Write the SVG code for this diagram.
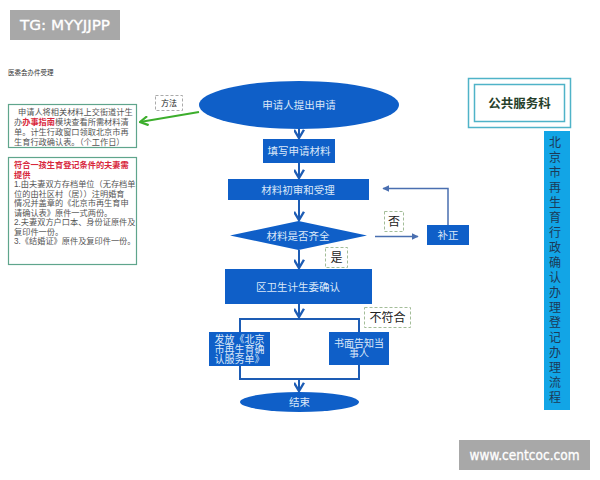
<svg xmlns="http://www.w3.org/2000/svg" width="600" height="480" viewBox="0 0 600 480">
<style>
text{font-family:"Liberation Sans","Noto Sans CJK SC",sans-serif}
.n{fill:#0f5fc8}
.w{fill:#dbe8f8;text-anchor:middle;font-size:10.5px}
.w2{fill:#dbe8f8;text-anchor:middle;font-size:10px}
.l{fill:#222;text-anchor:middle;font-size:12px}
.d{fill:#fff;stroke:#a3bd98;stroke-width:1;stroke-dasharray:3 2}
.c{fill:none;stroke:#1d5cb4;stroke-width:2}
.g{fill:#fff;stroke:#5fa58c;stroke-width:1.2}
.b{fill:#555;font-size:8.2px}
.r{fill:#d8283c;font-weight:700}
.wm{fill:#a8a8a8}
.wt{fill:#fff;stroke:#fff;stroke-width:.3;font-size:13.5px;font-family:"DejaVu Sans",sans-serif;text-anchor:middle}
.t{font-size:12px;fill:#1c3a58;text-anchor:middle}
</style>
<defs>
<marker id="o" viewBox="0 0 10 10" refX="8.5" refY="5" markerWidth="5.5" markerHeight="5.5" orient="auto" markerUnits="strokeWidth"><path d="M1 0.5L8.5 5L1 9.5" fill="none" stroke="#1d5cb4" stroke-width="2.2"/></marker>
<marker id="f" viewBox="0 0 10 10" refX="9" refY="5" markerWidth="4.5" markerHeight="4.5" orient="auto" markerUnits="strokeWidth"><path d="M0 0L10 5L0 10z" fill="#4a6fb0"/></marker>
<marker id="gr" viewBox="0 0 10 10" refX="9" refY="5" markerWidth="5" markerHeight="5" orient="auto" markerUnits="strokeWidth"><path d="M1 0.5L9 5L1 9.500" fill="none" stroke="#3cae2c" stroke-width="2.2"/></marker>
</defs>
<rect width="600" height="480" fill="#fff"/>
<g id="watermark-top"><rect class="wm" x="10" y="10" width="110" height="30"/><text class="wt" x="65" y="30" textLength="90" lengthAdjust="spacingAndGlyphs">TG: MYYJJPP</text></g>
<text x="8" y="75" font-size="6.5" fill="#333">医委会办件受理</text>
<g id="connectors">
<path d="M199 112L140 122" stroke="#3cae2c" stroke-width="2" fill="none" marker-end="url(#gr)"/>
<path class="c" d="M299 129V138" marker-end="url(#o)"/>
<path class="c" d="M299 163V178" marker-end="url(#o)"/>
<path class="c" d="M299 200V220" marker-end="url(#o)"/>
<path class="c" d="M299 250V268" marker-end="url(#o)"/>
<path class="c" d="M299 304V317" marker-end="url(#o)"/>
<path class="c" d="M240 332V319H359V332M240 366V379H359V365"/>
<path class="c" d="M299 379V391" marker-end="url(#o)"/>
<path d="M375 236.500H418" stroke="#4a6fb0" stroke-width="1.500" fill="none" marker-end="url(#f)"/>
<path d="M448 225V188.500H383" stroke="#4a6fb0" stroke-width="1.500" fill="none" marker-end="url(#f)"/>
</g>
<g id="note-method"><rect class="d" x="155.500" y="95.500" width="27" height="15" style="stroke:#aaa"/><text class="l" x="169" y="106" style="font-size:8px">方法</text></g>
<g id="box-guide"><rect class="g" x="8.500" y="104.500" width="128" height="43"/>
<text class="b" x="18" y="115">申请人将相关材料上交街道计生</text>
<text class="b" x="14" y="125">办<tspan class="r">办事指南</tspan>模块查看所需材料清</text>
<text class="b" x="14" y="135">单。计生行政窗口领取北京市再</text>
<text class="b" x="14" y="145">生育行政确认表。（个工作日）</text></g>
<g id="box-materials"><rect class="g" x="8.500" y="157.500" width="128" height="107"/>
<text class="b r" x="14" y="168">符合一孩生育登记条件的夫妻需</text>
<text class="b r" x="14" y="177.500">提供</text>
<text class="b" x="14" y="187">1.由夫妻双方存档单位（无存档单</text>
<text class="b" x="14" y="196.500">位的由社区村（居））注明婚育</text>
<text class="b" x="14" y="206">情况并盖章的《北京市再生育申</text>
<text class="b" x="14" y="215.500">请确认表》原件一式两份。</text>
<text class="b" x="14" y="225">2.夫妻双方户口本、身份证原件及</text>
<text class="b" x="14" y="234.500">复印件一份。</text>
<text class="b" x="14" y="244">3.《结婚证》原件及复印件一份。</text></g>
<g id="start"><ellipse class="n" cx="299" cy="105" rx="100" ry="24"/><text class="w" x="299" y="109">申请人提出申请</text></g>
<g id="fill"><rect class="n" x="263" y="139" width="72" height="24"/><text class="w" x="299" y="155">填写申请材料</text></g>
<g id="review"><rect class="n" x="228" y="179" width="141" height="21"/><text class="w" x="298" y="194">材料初审和受理</text></g>
<g id="check"><path class="n" d="M230 235.500L298.500 221L367 235.500L298.500 250z"/><text class="w" x="298" y="240">材料是否齐全</text></g>
<g id="confirm"><rect class="n" x="225" y="269" width="147" height="35"/><text class="w" x="298" y="291">区卫生计生委确认</text></g>
<g id="correct"><rect class="n" x="427" y="225" width="42" height="20"/><text class="w" x="448" y="239">补正</text></g>
<g id="note-no"><rect class="d" x="384.500" y="211.500" width="19" height="20"/><text class="l" x="394" y="226">否</text></g>
<g id="note-yes"><rect class="d" x="325.500" y="247.500" width="22" height="20"/><text class="l" x="336.500" y="262">是</text></g>
<g id="note-fail"><rect class="d" x="364.500" y="307.500" width="46" height="20"/><text class="l" x="387.500" y="322">不符合</text></g>
<g id="issue"><rect class="n" x="209" y="332" width="61" height="34"/>
<text class="w2" x="239.500" y="343">发放《北京</text><text class="w2" x="239.500" y="353">市再生育确</text><text class="w2" x="239.500" y="363">认服务单》</text></g>
<g id="notify"><rect class="n" x="329" y="332" width="60" height="33"/>
<text class="w2" x="359" y="347">书面告知当</text><text class="w2" x="359" y="357">事人</text></g>
<g id="end"><ellipse class="n" cx="299.500" cy="402" rx="59.500" ry="10"/><text class="w" x="299.500" y="406">结束</text></g>
<g id="office"><rect x="468.500" y="78.500" width="102" height="49" fill="#fff" stroke="#4fb3c8" stroke-width="1.500"/><rect x="474.500" y="84.500" width="90" height="37" fill="#fff" stroke="#4fb3c8" stroke-width="1.500"/><text x="519.500" y="108" text-anchor="middle" font-size="12.500" font-weight="700" fill="#26402a">公共服务科</text></g>
<g id="title"><rect x="544" y="131" width="26" height="279" fill="#12a5e6"/>
<text class="t" x="555" y="147">北</text><text class="t" x="555" y="162">京</text><text class="t" x="555" y="177">市</text><text class="t" x="555" y="192">再</text><text class="t" x="555" y="207">生</text><text class="t" x="555" y="222">育</text><text class="t" x="555" y="237">行</text><text class="t" x="555" y="252">政</text><text class="t" x="555" y="267">确</text><text class="t" x="555" y="282">认</text><text class="t" x="555" y="297">办</text><text class="t" x="555" y="312">理</text><text class="t" x="555" y="327">登</text><text class="t" x="555" y="342">记</text><text class="t" x="555" y="357">办</text><text class="t" x="555" y="372">理</text><text class="t" x="555" y="387">流</text><text class="t" x="555" y="402">程</text></g>
<g id="watermark-bottom"><rect class="wm" x="459" y="440" width="131" height="30"/><text class="wt" x="524.500" y="460" textLength="110" lengthAdjust="spacingAndGlyphs">www.centcoc.com</text></g>
</svg>
